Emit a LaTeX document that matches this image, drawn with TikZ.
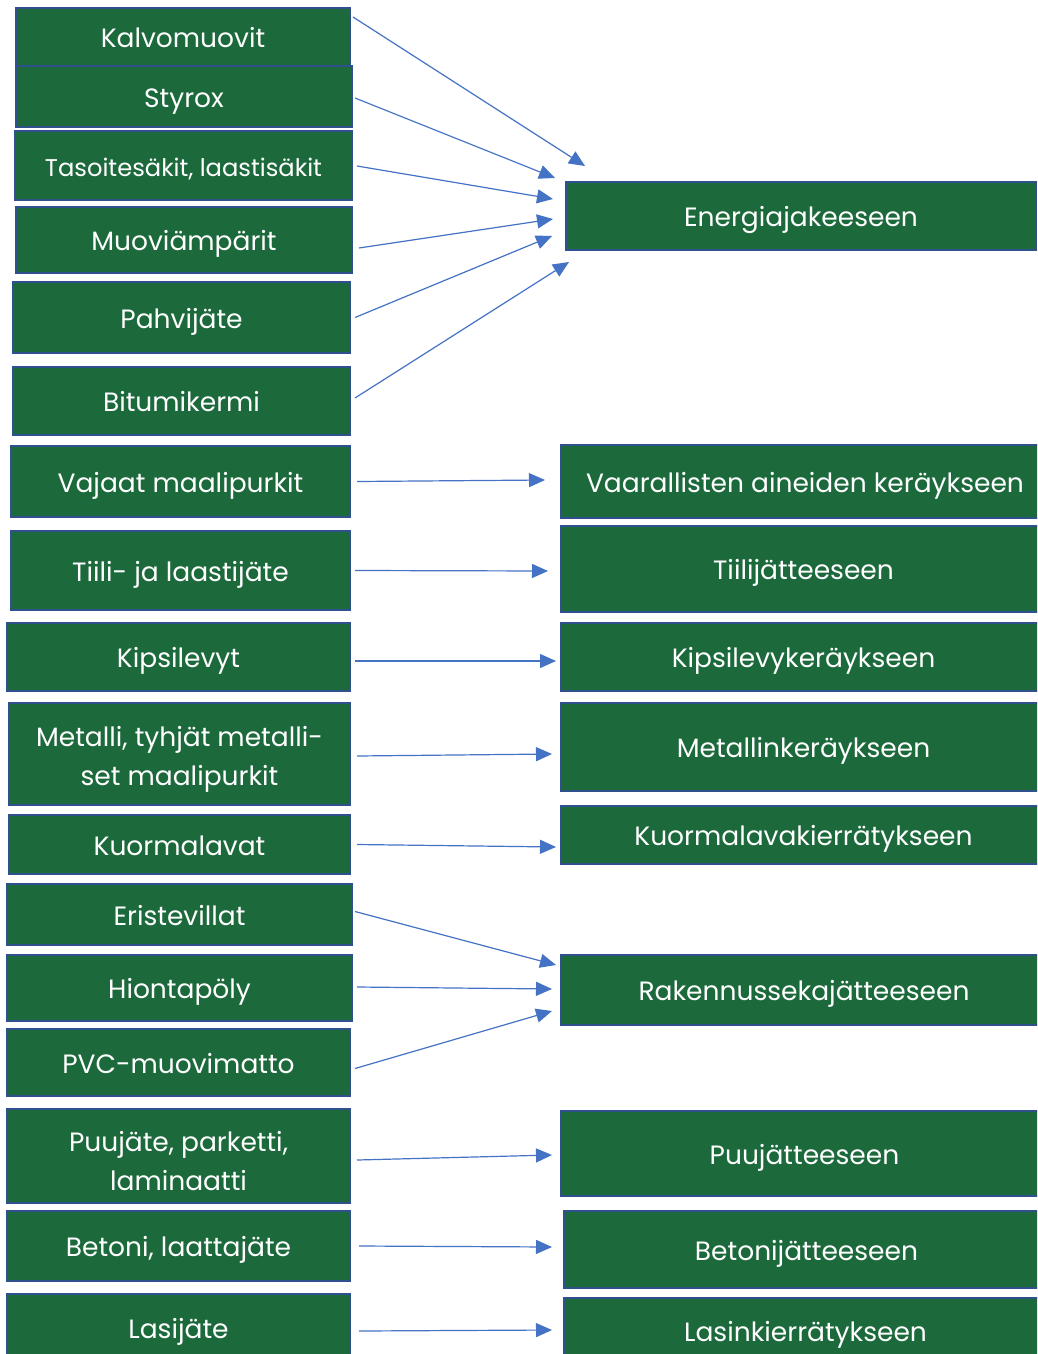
\documentclass[tikz,border=0pt]{standalone}
\usepackage{fontspec}
\setmainfont{Poppins}
\usetikzlibrary{arrows.meta}
\definecolor{boxgreen}{HTML}{1C6A3C}
\definecolor{boxedge}{HTML}{2F528F}
\definecolor{arrowblue}{HTML}{4472C4}
\tikzset{
  wbox/.style={draw=boxedge, line width=2pt, fill=boxgreen, text=white,
    inner sep=0pt, align=center, text height=27pt, text depth=6pt,
    font=\fontsize{26.5}{39}\selectfont},
  arr/.style={draw=arrowblue, line width=1.2pt,
    -{Triangle[length=16pt,width=14pt]}},
}
% \wastebox[extra options]{name}{x1}{y1}{x2}{y2}{text}
\newcommand{\wastebox}[7][]{%
  \node[wbox, minimum width={#5-#3}, minimum height={#6-#4}, #1]
    (#2) at ({(#3+#5)/2},{(#4+#6)/2}) {#7};}
\begin{document}
\begin{tikzpicture}[x=1pt,y=-1pt]
\useasboundingbox (0,0) rectangle (1037,1354);
\clip (0,0) rectangle (1037,1354);
\fill[white] (0,0) rectangle (1037,1354);

% waste types
\wastebox{kalv}{16}{8}{350}{66}{Kalvomuovit}
\wastebox{styr}{16}{66}{352}{127}{Styrox}
\wastebox[font=\fontsize{24.2}{30}\selectfont]{taso}{15}{131}{352}{200}{Tasoitesäkit, laastisäkit}
\wastebox{muov}{16}{207}{352}{273}{Muoviämpärit}
\wastebox{pahv}{13}{282}{350}{353}{Pahvijäte}
\wastebox{bitu}{13}{367}{350}{435}{Bitumikermi}
\wastebox{vaja}{11}{446}{350}{517}{Vajaat maalipurkit}
\wastebox{tiil}{11}{531}{350}{610}{Tiili- ja laastijäte}
\wastebox{kips}{7}{623}{350}{691}{Kipsilevyt}
\wastebox[text height=, text depth=]{meta}{9}{703}{350}{805}{\rule{0pt}{30pt}Metalli, tyhjät metalli-\\set maalipurkit}
\wastebox{kuor}{9}{815}{350}{874}{Kuormalavat}
\wastebox{eris}{7}{884}{352}{945}{Eristevillat}
\wastebox{hion}{7}{955}{352}{1021}{Hiontapöly}
\wastebox{pvc}{7}{1029}{350}{1096}{PVC-muovimatto}
\wastebox[text height=, text depth=]{puu}{7}{1109}{350}{1203}{\rule{0pt}{30pt}Puujäte, parketti,\\laminaatti}
\wastebox{beto}{7}{1211}{350}{1281}{Betoni, laattajäte}
\wastebox{lasi}{7}{1294}{350}{1362}{Lasijäte}

% destinations (most run on past the right edge)
\wastebox{ener}{566}{182}{1036}{250}{Energiajakeeseen}
\wastebox{vaar}{561}{445}{1049}{518}{Vaarallisten aineiden keräykseen}
\wastebox{tiilj}{561}{526}{1046}{612}{Tiilijätteeseen}
\wastebox{kipsk}{561}{623}{1046}{691}{Kipsilevykeräykseen}
\wastebox{metak}{561}{703}{1046}{791}{Metallinkeräykseen}
\wastebox{kuork}{561}{806}{1046}{864}{Kuormalavakierrätykseen}
\wastebox{rake}{561}{955}{1047}{1025}{Rakennussekajätteeseen}
\wastebox{puuj}{561}{1111}{1048}{1196}{Puujätteeseen}
\wastebox{betoj}{564}{1211}{1049}{1288}{Betonijätteeseen}
\wastebox{lasik}{564}{1298}{1047}{1364}{Lasinkierrätykseen}

% connectors
\draw[arr] ([shift={(2,-20)}]kalv.east) -- ([shift={(20,-50)}]ener.west);
\draw[arr] ([shift={(2,1.5)}]styr.east) -- ([shift={(-10,-38)}]ener.west);
\draw[arr] ([shift={(4,0.5)}]taso.east) -- ([shift={(-12,-17)}]ener.west);
\draw[arr] ([shift={(6,8)}]muov.east) -- ([shift={(-12,3)}]ener.west);
\draw[arr] ([shift={(4,0)}]pahv.east) -- ([shift={(-13,20)}]ener.west);
\draw[arr] ([shift={(4,-3)}]bitu.east) -- ([shift={(4,46)}]ener.west);
\draw[arr] ([shift={(6,0)}]vaja.east) -- ([shift={(-15,-1.5)}]vaar.west);
\draw[arr] ([shift={(4,0)}]tiil.east) -- ([shift={(-12,2)}]tiilj.west);
\draw[arr] ([shift={(4,4)}]kips.east) -- ([shift={(-4,4)}]kipsk.west);
\draw[arr] ([shift={(6,2)}]meta.east) -- ([shift={(-8,7)}]metak.west);
\draw[arr] ([shift={(6,0)}]kuor.east) -- ([shift={(-4,12)}]kuork.west);
\draw[arr] ([shift={(2,-3)}]eris.east) -- ([shift={(-4,-25)}]rake.west);
\draw[arr] ([shift={(4,-1)}]hion.east) -- ([shift={(-8,-1)}]rake.west);
\draw[arr] ([shift={(4,6)}]pvc.east) -- ([shift={(-8,21)}]rake.west);
\draw[arr] ([shift={(6,4)}]puu.east) -- ([shift={(-8,1.5)}]puuj.west);
\draw[arr] ([shift={(8,0)}]beto.east) -- ([shift={(-11,-2.5)}]betoj.west);
\draw[arr] ([shift={(8,3)}]lasi.east) -- ([shift={(-11,-1)}]lasik.west);
\end{tikzpicture}
\end{document}
